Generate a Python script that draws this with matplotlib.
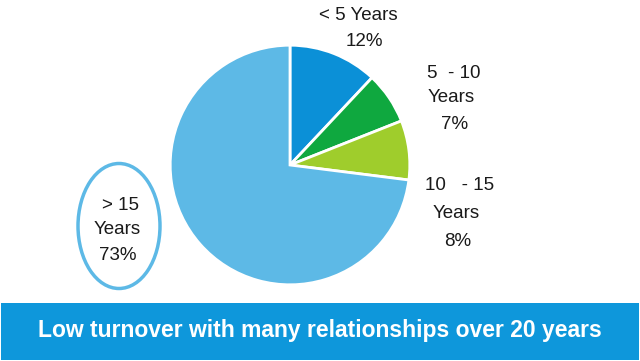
import matplotlib.pyplot as plt
from matplotlib.patches import Ellipse, Rectangle

# Dati
categories = ['< 5 Years', '5  - 10\nYears', '10   - 15\nYears', '> 15\nYears']
shares = [12, 7, 8, 73]
colors = ['#0b90d7', '#0fa83f', '#9fcd2c', '#5db9e6']
banner_text = 'Low turnover with many relationships over 20 years'

W, H = 640, 361
fig = plt.figure(figsize=(W / 100, H / 100), dpi=100)
plt.rcParams['font.family'] = ['Liberation Sans', 'DejaVu Sans']

# Torta: centro (290, 165), raggio 121 px
cx, cy, r = 290, 165, 121
ax = fig.add_axes([(cx - r) / W, (H - cy - r) / H, 2 * r / W, 2 * r / H])
ax.pie(shares, colors=colors, startangle=90, counterclock=False,
       wedgeprops=dict(edgecolor='white', linewidth=2))
ax.set_xlim(-1.01, 1.01)
ax.set_ylim(-1.01, 1.01)
ax.set_aspect('equal')
ax.axis('off')

# Etichette (coordinate in pixel)
def px(x, y):
    return x / W, 1 - y / H

txt = dict(fontsize=13.5, color='#1a1a1a', ha='center', va='center')
labels = [
    (358, 15, '< 5 Years'), (364, 42, '12%'),
    (454, 73, '5  - 10'), (451, 98, 'Years'), (455, 124, '7%'),
    (460, 186, '10   - 15'), (456, 214, 'Years'), (458, 242, '8%'),
    (120, 205, '> 15'), (117, 230, 'Years'), (118, 255, '73%'),
]
for x, y, t in labels:
    fig.text(*px(x, y), t, **txt)

# Ellisse attorno a > 15 anni
fig.add_artist(Ellipse(px(119, 226), 82 / W, 125 / H, transform=fig.transFigure,
                       fill=False, edgecolor='#5db9e6', linewidth=2.5))

# Banner in basso
fig.add_artist(Rectangle((1 / W, 1 - 360 / H), 638 / W, 57 / H,
                         transform=fig.transFigure, facecolor='#0e97db',
                         edgecolor='none'))
fig.text(*px(320, 330), banner_text, fontsize=16.5, fontweight='bold',
         color='white', ha='center', va='center')

fig.savefig('out.png', dpi=100)
